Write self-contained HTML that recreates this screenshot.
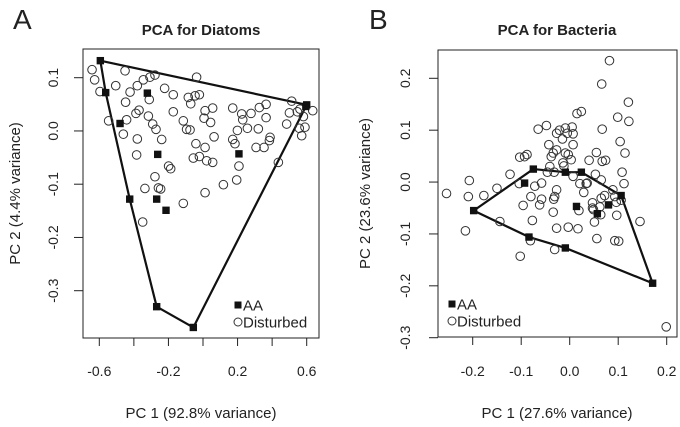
<!DOCTYPE html>
<html><head><meta charset="utf-8"><style>
html,body{margin:0;padding:0;background:#fff}
svg{display:block;font-family:"Liberation Sans",Arial,sans-serif}
</style></head><body>
<svg id="c" width="680" height="427" viewBox="0 0 680 427" xmlns="http://www.w3.org/2000/svg"></svg>
<script>
// Panel A data (Diatoms)
const aAA=[[-0.594,0.132],[-0.563,0.072],[-0.322,0.071],[-0.480,0.014],[-0.262,-0.044],[0.208,-0.043],[-0.424,-0.128],[-0.268,-0.128],[-0.214,-0.149],[-0.268,-0.330],[-0.056,-0.369],[0.600,0.049],[0.595,0.046]];
const aHull=[[-0.594,0.132],[0.600,0.049],[-0.056,-0.369],[-0.268,-0.330],[-0.424,-0.128],[-0.563,0.072]];
const aDist=[[-0.642,0.115],[-0.627,0.096],[-0.596,0.074],[-0.451,0.113],[-0.505,0.085],[-0.380,0.085],[-0.345,0.096],[-0.307,0.101],[-0.278,0.105],[-0.037,0.101],[-0.422,0.073],[-0.311,0.059],[-0.448,0.054],[-0.222,0.080],[-0.172,0.068],[-0.085,0.063],[-0.046,0.066],[-0.021,0.068],[-0.071,0.051],[-0.546,0.019],[-0.442,0.021],[-0.370,0.039],[-0.388,0.033],[-0.316,0.028],[-0.291,0.013],[-0.272,0.003],[-0.461,-0.006],[-0.380,-0.015],[-0.239,-0.016],[-0.172,0.036],[-0.114,0.019],[-0.095,0.003],[-0.075,0.002],[0.012,0.038],[0.056,0.043],[0.006,0.024],[0.044,0.016],[0.064,-0.011],[0.172,0.043],[0.224,0.032],[0.278,0.033],[0.326,0.044],[0.365,0.050],[0.230,0.021],[0.257,0.005],[0.365,0.025],[0.320,0.004],[0.199,0.001],[0.172,-0.016],[0.185,-0.024],[-0.041,-0.024],[0.012,-0.031],[0.307,-0.031],[0.353,-0.031],[0.388,-0.012],[0.384,-0.018],[-0.384,-0.045],[-0.056,-0.051],[-0.021,-0.048],[0.021,-0.056],[0.056,-0.059],[-0.199,-0.066],[-0.187,-0.071],[0.436,-0.059],[0.208,-0.066],[-0.278,-0.086],[-0.336,-0.108],[-0.258,-0.107],[-0.245,-0.109],[0.118,-0.101],[0.195,-0.092],[0.012,-0.116],[-0.114,-0.136],[-0.349,-0.171],[0.513,0.056],[0.500,0.034],[0.546,0.036],[0.561,0.041],[0.635,0.038],[0.581,0.027],[0.484,0.013],[0.557,0.005],[0.590,0.007],[0.571,-0.009]];
const aXTicks=[-0.6,-0.4,-0.2,0,0.2,0.4,0.6];
const aXLabels=["-0.6","","-0.2","","0.2","","0.6"];
const aYTicks=[0.1,0,-0.1,-0.2,-0.3];
const aYLabels=["0.1","0.0","-0.1","-0.2","-0.3"];
// Panel B data (Bacteria)
const bAA=[[-0.198,-0.055],[-0.075,0.025],[-0.093,-0.002],[-0.009,0.019],[0.024,0.019],[0.014,-0.047],[0.057,-0.061],[0.080,-0.044],[0.106,-0.026],[-0.084,-0.106],[-0.009,-0.127],[0.171,-0.195]];
const bHull=[[-0.198,-0.055],[-0.075,0.025],[-0.009,0.019],[0.024,0.019],[0.106,-0.026],[0.171,-0.195],[-0.009,-0.127],[-0.084,-0.106]];
const bDist=[[-0.254,-0.022],[-0.207,0.003],[-0.209,-0.028],[-0.177,-0.026],[-0.150,-0.012],[-0.123,0.015],[-0.215,-0.094],[-0.144,-0.076],[-0.102,-0.143],[-0.103,0.048],[-0.093,0.049],[-0.088,0.053],[-0.104,-0.003],[-0.096,-0.045],[-0.080,-0.028],[-0.072,-0.008],[-0.058,-0.002],[-0.077,-0.074],[-0.081,-0.113],[-0.065,0.102],[-0.048,0.109],[-0.043,0.072],[-0.038,0.049],[-0.034,0.056],[-0.027,0.062],[-0.027,0.094],[-0.021,0.100],[-0.015,0.083],[-0.009,0.104],[-0.005,0.094],[0.005,0.106],[0.007,0.093],[0.007,0.072],[-0.009,0.056],[-0.003,0.053],[-0.014,0.037],[-0.012,0.031],[0.003,0.043],[-0.046,0.019],[-0.032,0.019],[0.007,0.011],[-0.027,-0.015],[-0.033,-0.033],[-0.031,-0.028],[-0.058,-0.033],[-0.034,-0.058],[-0.027,-0.089],[-0.003,-0.087],[0.017,-0.090],[0.019,-0.055],[0.015,0.132],[0.024,0.136],[0.029,-0.020],[0.034,-0.003],[0.036,-0.002],[0.040,0.042],[0.055,0.057],[0.067,0.040],[0.074,0.042],[0.053,0.015],[0.065,0.004],[0.089,-0.015],[0.093,-0.028],[0.096,-0.039],[0.065,-0.031],[0.047,-0.040],[0.062,-0.048],[0.064,-0.063],[0.051,-0.077],[0.056,-0.109],[0.093,-0.113],[0.101,-0.114],[0.097,-0.064],[0.106,-0.035],[0.108,0.019],[0.112,-0.003],[0.104,0.078],[0.114,0.056],[0.099,0.125],[0.122,0.117],[0.121,0.154],[0.067,0.102],[0.066,0.189],[0.082,0.234],[0.145,-0.076],[0.072,-0.026],[0.047,-0.050],[-0.031,-0.130],[0.199,-0.279],[0.021,-0.003],[0.049,-0.053],[-0.062,-0.044],[-0.041,0.030]];
const bXTicks=[-0.2,-0.1,0,0.1,0.2];
const bXLabels=["-0.2","-0.1","0.0","0.1","0.2"];
const bYTicks=[0.2,0.1,0,-0.1,-0.2,-0.3];
const bYLabels=["0.2","0.1","0.0","-0.1","-0.2","-0.3"];

const NS="http://www.w3.org/2000/svg";
const svg=document.getElementById('c');
function mk(tag,attrs,parent,text){const e=document.createElementNS(NS,tag);for(const k in attrs)e.setAttribute(k,attrs[k]);if(text!==undefined)e.textContent=text;(parent||svg).appendChild(e);return e;}

function panel(cfg){
  const g=mk('g',{});
  
  
  const sx=v=>cfg.x0px+(v-cfg.x0v)*(cfg.x1px-cfg.x0px)/(cfg.x1v-cfg.x0v);
  const sy=v=>cfg.y0px+(v-cfg.y0v)*(cfg.y1px-cfg.y0px)/(cfg.y1v-cfg.y0v);
  const box=mk('rect',{x:cfg.box[0],y:cfg.box[1],width:cfg.box[2]-cfg.box[0],height:cfg.box[3]-cfg.box[1],fill:'none',stroke:'#222','stroke-width':1},g);
  
  
  // x axis
  const xa=mk('g',{},g);
  
  
  const xmin=sx(cfg.xt[0]),xmax=sx(cfg.xt[cfg.xt.length-1]);
  mk('line',{x1:xmin,x2:xmax,y1:cfg.box[3],y2:cfg.box[3],stroke:'#222'},xa);
  cfg.xt.forEach((t,i)=>{const x=sx(t);
    mk('line',{x1:x,x2:x,y1:cfg.box[3],y2:cfg.box[3]+8,stroke:'#222'},xa);
    if(cfg.xl[i]){const tx=mk('text',{x:x,y:376,'text-anchor':'middle','font-size':14,fill:'#222'},xa,cfg.xl[i]);
      
      }
  });
  // y axis
  const ya=mk('g',{},g);
  
  
  cfg.yt.forEach((t,i)=>{const y=sy(t);
    mk('line',{x1:cfg.box[0]-9,x2:cfg.box[0],y1:y,y2:y,stroke:'#222'},ya);
    const tx=mk('text',{x:0,y:0,transform:`translate(${cfg.ylx},${y}) rotate(-90)`,'text-anchor':'middle','font-size':14,fill:'#222'},ya,cfg.yl[i]);
    
    
  });
  const ymin=sy(cfg.yt[0]),ymax=sy(cfg.yt[cfg.yt.length-1]);
  mk('line',{x1:cfg.box[0]-9+9,x2:cfg.box[0],y1:ymin,y2:ymin,stroke:'none'},ya);
  // hull
  const hull=mk('polygon',{points:cfg.hull.map(p=>sx(p[0])+','+sy(p[1])).join(' '),fill:'none',stroke:'#111','stroke-width':2.2,'stroke-linejoin':'round'},g);
  
  
  cfg.dist.forEach(p=>{const c=mk('circle',{cx:sx(p[0]),cy:sy(p[1]),r:4.3,fill:'none',stroke:'#333','stroke-width':1},g);
    
    });
  cfg.aa.forEach(p=>{const r=mk('rect',{x:sx(p[0])-3.7,y:sy(p[1])-3.7,width:7.4,height:7.4,fill:'#111'},g);
    
    });
  // titles
  const tt=mk('text',{x:cfg.tcx,y:35,'text-anchor':'middle','font-size':15,'font-weight':'bold',fill:'#222'},g,cfg.title);
  
  
  const lt=mk('text',{x:cfg.letter[0],y:29,'font-size':28,fill:'#222'},g,cfg.letter[1]);
  
  
  const xt=mk('text',{x:cfg.tcx,y:418,'text-anchor':'middle','font-size':15,fill:'#222'},g,cfg.xtitle);
  
  
  const yt=mk('text',{x:0,y:0,transform:`translate(${cfg.ytx},${(cfg.box[1]+cfg.box[3])/2}) rotate(-90)`,'text-anchor':'middle','font-size':15,fill:'#222'},g,cfg.ytitle);
  
  
  // legend
  const lg=mk('g',{},g);
  
  
  const [lx,ly]=cfg.legend;
  const e1=mk('g',{},lg);
  
  
  mk('rect',{x:lx-3.5,y:ly-3.5,width:7,height:7,fill:'#111'},e1);
  mk('text',{x:lx+5,y:ly+5.5,'font-size':15,fill:'#222'},e1,'AA');
  const e2=mk('g',{},lg);
  
  
  mk('circle',{cx:lx,cy:ly+17,r:4,fill:'none',stroke:'#333'},e2);
  mk('text',{x:lx+5,y:ly+22.5,'font-size':15,fill:'#222'},e2,'Disturbed');
}

panel({name:'panel-a-diatoms',box:[83,49,319,338],x0v:-0.6,x1v:0.6,x0px:99.3,x1px:306.7,y0v:0.1,y1v:-0.3,y0px:77.7,y1px:290.7,
  xt:aXTicks,xl:aXLabels,yt:aYTicks,yl:aYLabels,ylx:58,ytx:20,tcx:201,letter:[13,'A'],
  title:'PCA for Diatoms',xtitle:'PC 1 (92.8% variance)',ytitle:'PC 2 (4.4% variance)',
  hull:aHull,aa:aAA,dist:aDist,legend:[238,305]});
panel({name:'panel-b-bacteria',box:[438,50,677,337],x0v:-0.2,x1v:0.2,x0px:472.7,x1px:666.7,y0v:0.2,y1v:-0.3,y0px:78.3,y1px:337.7,
  xt:bXTicks,xl:bXLabels,yt:bYTicks,yl:bYLabels,ylx:410,ytx:370,tcx:557,letter:[369,'B'],
  title:'PCA for Bacteria',xtitle:'PC 1 (27.6% variance)',ytitle:'PC 2 (23.6% variance)',
  hull:bHull,aa:bAA,dist:bDist,legend:[452,304]});
</script>
</body></html>
